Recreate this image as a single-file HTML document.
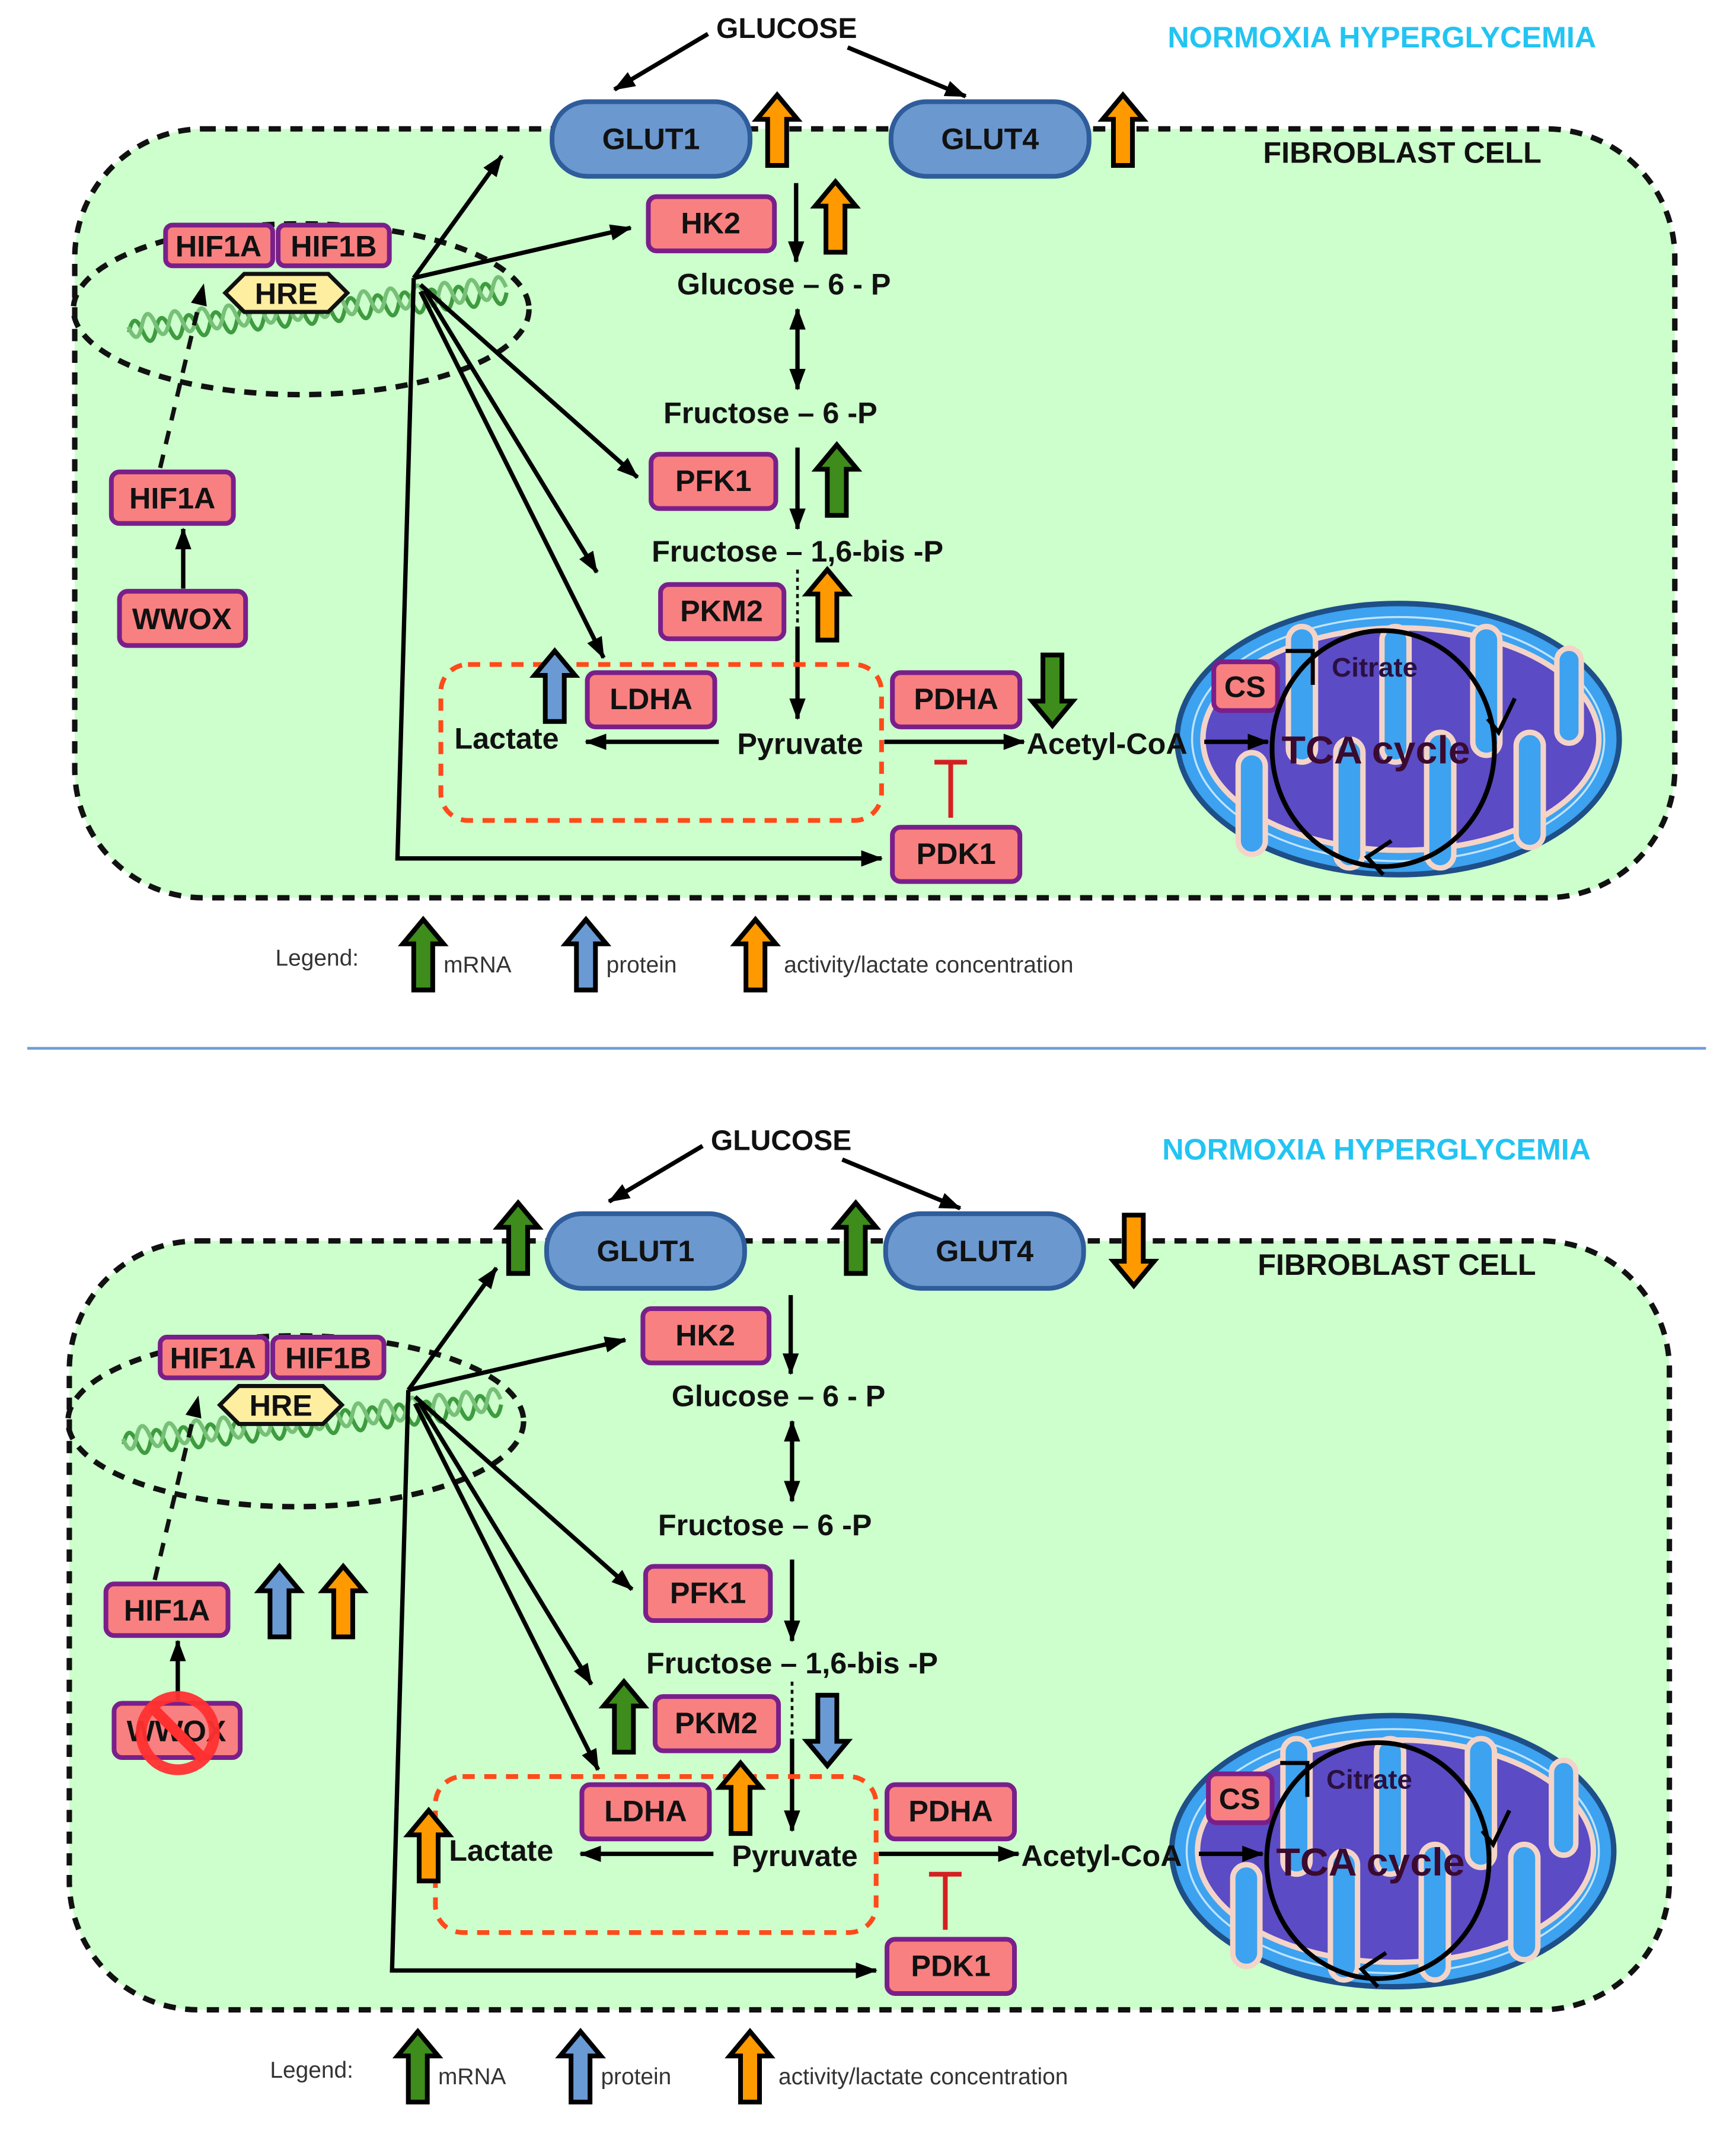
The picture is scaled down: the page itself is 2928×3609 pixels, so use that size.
<!DOCTYPE html>
<html><head><meta charset="utf-8"><style>
html,body{margin:0;padding:0;background:#fff}
svg{display:block}
text{font-family:"Liberation Sans",sans-serif}
.lb{font-weight:bold;font-size:22px;fill:#111}
.nb{font-weight:bold;font-size:22px;fill:#111;text-anchor:middle}
.box{fill:#f88080;stroke:#7a1f8a;stroke-width:3.5}
.ln{stroke:#000;stroke-width:3.2;fill:none}
</style></head><body>
<svg width="2928" height="3609" viewBox="0 0 1280 1578" xmlns="http://www.w3.org/2000/svg">
<defs>
<marker id="ah2" markerWidth="16" markerHeight="12" refX="15" refY="6" orient="auto-start-reverse" markerUnits="userSpaceOnUse"><path d="M0,0 L16,6 L0,12 Z"/></marker>
<g id="ba"><path d="M0,0 L15,18 L7,18 L7,52 L-7,52 L-7,18 L-15,18 Z" stroke="#000" stroke-width="3.5" stroke-linejoin="miter"/></g>
<g id="common">
<rect x="55" y="95" width="1180" height="567" rx="95" fill="#ccffcc" stroke="#111" stroke-width="4" stroke-dasharray="9,7"/>
<text x="580" y="28" font-size="21" text-anchor="middle" fill="#111" font-weight="bold">GLUCOSE</text>
<text x="1019" y="35" font-size="22" text-anchor="middle" fill="#22c4f2" font-weight="bold">NORMOXIA HYPERGLYCEMIA</text>
<text x="1034" y="120" font-size="22" text-anchor="middle" fill="#111" font-weight="bold">FIBROBLAST CELL</text>
<line class="ln" x1="522" y1="25" x2="453" y2="66" marker-end="url(#ah2)"/>
<line class="ln" x1="625" y1="35" x2="712" y2="71" marker-end="url(#ah2)"/>
<rect x="407" y="75" width="146" height="55" rx="26" fill="#6b98cf" stroke="#2f5c9a" stroke-width="3.5"/>
<text x="480" y="110" class="nb">GLUT1</text>
<rect x="657" y="75" width="146" height="55" rx="26" fill="#6b98cf" stroke="#2f5c9a" stroke-width="3.5"/>
<text x="730" y="110" class="nb">GLUT4</text>
<ellipse cx="222" cy="228" rx="168" ry="63" fill="none" stroke="#111" stroke-width="4" stroke-dasharray="9,7"/>
<g transform="translate(95,245) rotate(-6)" fill="none">
<path d="M0,0 q5,-16 10,0 t10,0 t10,0 t10,0 t10,0 t10,0 t10,0 t10,0 t10,0 t10,0 t10,0 t10,0 t10,0 t10,0 t10,0 t10,0 t10,0 t10,0 t10,0 t10,0 t10,0 t10,0 t10,0 t10,0 t10,0 t10,0 t10,0 t10,0" stroke="#3f9b3f" stroke-width="3"/>
<path d="M0,-4 q5,16 10,0 t10,0 t10,0 t10,0 t10,0 t10,0 t10,0 t10,0 t10,0 t10,0 t10,0 t10,0 t10,0 t10,0 t10,0 t10,0 t10,0 t10,0 t10,0 t10,0 t10,0 t10,0 t10,0 t10,0 t10,0 t10,0 t10,0 t10,0" stroke="#78c078" stroke-width="3"/>
</g>
<rect class="box" x="122" y="166" width="79" height="30" rx="5"/>
<text x="161" y="189" class="nb">HIF1A</text>
<rect class="box" x="205" y="166" width="82" height="30" rx="5"/>
<text x="246" y="189" class="nb">HIF1B</text>
<path d="M166,216 L180,202 L242,202 L256,216 L242,230 L180,230 Z" fill="#fdeea0" stroke="#111" stroke-width="3"/>
<text x="211" y="224" class="nb">HRE</text>
<line x1="118" y1="345" x2="150" y2="210" stroke="#111" stroke-width="3.2" stroke-dasharray="10,8" marker-end="url(#ah2)"/>
<rect class="box" x="82" y="348" width="90" height="38" rx="6"/>
<text x="127" y="375" class="nb">HIF1A</text>
<rect class="box" x="88" y="436" width="93" height="40" rx="6"/>
<text x="134" y="464" class="nb">WWOX</text>
<line class="ln" x1="135" y1="434" x2="135" y2="390" marker-end="url(#ah2)"/>
<line class="ln" x1="305" y1="205" x2="370" y2="115" marker-end="url(#ah2)"/>
<line class="ln" x1="305" y1="205" x2="465" y2="168" marker-end="url(#ah2)"/>
<line class="ln" x1="310" y1="210" x2="470" y2="352" marker-end="url(#ah2)"/>
<line class="ln" x1="313" y1="214" x2="440" y2="422" marker-end="url(#ah2)"/>
<line class="ln" x1="310" y1="215" x2="445" y2="485" marker-end="url(#ah2)"/>
<polyline class="ln" points="305,205 293,633 650,633" marker-end="url(#ah2)"/>
<rect class="box" x="478" y="145" width="93" height="40" rx="6"/>
<text x="524" y="172" class="nb">HK2</text>
<line class="ln" x1="587" y1="135" x2="587" y2="193" marker-end="url(#ah2)"/>
<text x="578" y="217" class="nb">Glucose – 6 - P</text>
<line class="ln" x1="588" y1="228" x2="588" y2="287" marker-start="url(#ah2)" marker-end="url(#ah2)"/>
<text x="568" y="312" class="nb">Fructose – 6 -P</text>
<rect class="box" x="480" y="335" width="92" height="40" rx="6"/>
<text x="526" y="362" class="nb">PFK1</text>
<line class="ln" x1="588" y1="330" x2="588" y2="390" marker-end="url(#ah2)"/>
<text x="588" y="414" class="nb">Fructose – 1,6-bis -P</text>
<line x1="588" y1="420" x2="588" y2="462" stroke="#111" stroke-width="2" stroke-dasharray="3,3"/>
<line class="ln" x1="588" y1="462" x2="588" y2="530" marker-end="url(#ah2)"/>
<rect class="box" x="487" y="431" width="91" height="40" rx="6"/>
<text x="532" y="458" class="nb">PKM2</text>
<rect x="325" y="490" width="325" height="115" rx="20" fill="none" stroke="#ff4a1a" stroke-width="3.5" stroke-dasharray="9,7"/>
<rect class="box" x="433" y="496" width="94" height="40" rx="6"/>
<text x="480" y="523" class="nb">LDHA</text>
<text x="335" y="552" class="lb">Lactate</text>
<text x="590" y="556" class="nb">Pyruvate</text>
<line class="ln" x1="530" y1="547" x2="432" y2="547" marker-end="url(#ah2)"/>
<line class="ln" x1="652" y1="547" x2="755" y2="547" marker-end="url(#ah2)"/>
<rect class="box" x="658" y="496" width="94" height="40" rx="6"/>
<text x="705" y="523" class="nb">PDHA</text>
<line x1="701" y1="603" x2="701" y2="562" stroke="#d42020" stroke-width="3.5"/>
<line x1="689" y1="562" x2="713" y2="562" stroke="#d42020" stroke-width="3.5"/>
<rect class="box" x="658" y="610" width="94" height="40" rx="6"/>
<text x="705" y="637" class="nb">PDK1</text>
<!-- mitochondrion -->
<ellipse cx="1031" cy="545" rx="163" ry="100" fill="#3da2ef" stroke="#1e4f88" stroke-width="4"/>
<ellipse cx="1031" cy="545" rx="152" ry="90" fill="none" stroke="#bfe3ff" stroke-width="1.5"/>
<ellipse cx="1033" cy="545" rx="146" ry="82" fill="#5b4bc4" stroke="#f4d4c8" stroke-width="4"/>
<g fill="#3da2ef" stroke="#f4d4c8" stroke-width="4">
<rect x="913" y="555" width="20" height="75" rx="10"/>
<rect x="950" y="462" width="20" height="100" rx="10"/>
<rect x="985" y="545" width="20" height="95" rx="10"/>
<rect x="1019" y="462" width="20" height="100" rx="10"/>
<rect x="1052" y="540" width="20" height="100" rx="10"/>
<rect x="1086" y="462" width="20" height="95" rx="10"/>
<rect x="1118" y="540" width="20" height="85" rx="10"/>
<rect x="1148" y="478" width="18" height="70" rx="9"/>
</g>
<rect x="895" y="488" width="47" height="36" rx="6" class="box"/>
<text x="918" y="514" class="nb">CS</text>
<ellipse cx="1020" cy="552" rx="82" ry="87" fill="none" stroke="#000" stroke-width="3.5"/>
<path d="M948,480 L968,480 L968,505" fill="none" stroke="#000" stroke-width="3"/>
<path d="M1097,530 L1105,540 L1117,515" fill="none" stroke="#000" stroke-width="3"/>
<path d="M1026,620 L1008,632 L1020,645" fill="none" stroke="#000" stroke-width="3"/>
<text x="982" y="499" font-size="20" font-weight="bold" fill="#2a1040">Citrate</text>
<text x="945" y="563" font-size="29" font-weight="bold" fill="#3a0a30">TCA cycle</text>
<line class="ln" x1="888" y1="547" x2="935" y2="547" marker-end="url(#ah2)"/>
<text x="757" y="556" class="lb">Acetyl-CoA</text>
<!-- legend -->
<text x="203" y="712" font-size="17" fill="#333">Legend:</text>
<use href="#ba" x="312" y="678" fill="#3d8c1c"/>
<text x="327" y="717" font-size="17" fill="#333">mRNA</text>
<use href="#ba" x="432" y="678" fill="#6a9ad4"/>
<text x="447" y="717" font-size="17" fill="#333">protein</text>
<use href="#ba" x="557" y="678" fill="#ff9900"/>
<text x="578" y="717" font-size="17" fill="#333">activity/lactate concentration</text>
</g>
</defs>
<rect width="1280" height="1578" fill="#fff"/>
<use href="#common"/>
<use href="#ba" x="573" y="70" fill="#ff9900"/>
<use href="#ba" x="828" y="70" fill="#ff9900"/>
<use href="#ba" x="616" y="134" fill="#ff9900"/>
<use href="#ba" x="617" y="328" fill="#3d8c1c"/>
<use href="#ba" x="610" y="420" fill="#ff9900"/>
<use href="#ba" x="409" y="480" fill="#6a9ad4"/>
<use href="#ba" transform="translate(776,535) scale(1,-1)" fill="#3d8c1c"/>
<line x1="20" y1="773" x2="1258" y2="773" stroke="#6f9ed8" stroke-width="2"/>
<g transform="translate(-4,820)">
<use href="#common"/>
<use href="#ba" x="386" y="67" fill="#3d8c1c"/>
<use href="#ba" x="635" y="67" fill="#3d8c1c"/>
<use href="#ba" transform="translate(840,128) scale(1,-1)" fill="#ff9900"/>
<use href="#ba" x="210" y="335" fill="#6a9ad4"/>
<use href="#ba" x="257" y="335" fill="#ff9900"/>
<use href="#ba" x="464" y="420" fill="#3d8c1c"/>
<use href="#ba" transform="translate(614,482) scale(1,-1)" fill="#6a9ad4"/>
<use href="#ba" x="550" y="480" fill="#ff9900"/>
<use href="#ba" x="320" y="515" fill="#ff9900"/>
<circle cx="135" cy="458" r="27" fill="none" stroke="#ff3030" stroke-width="8" opacity="0.95"/>
<line x1="116" y1="439" x2="154" y2="477" stroke="#ff3030" stroke-width="8"/>
</g>
</svg>
</body></html>
